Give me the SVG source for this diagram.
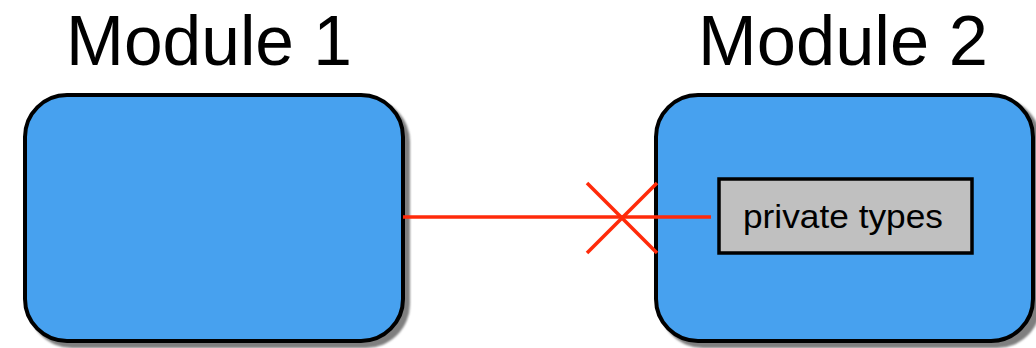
<svg xmlns="http://www.w3.org/2000/svg" width="1036" height="348" viewBox="0 0 1036 348">
  <defs>
    <filter id="blur" x="-5%" y="-5%" width="110%" height="110%">
      <feGaussianBlur stdDeviation="1.2"/>
    </filter>
  </defs>
  <style>
    .shadow { fill: #7f7f7f; filter: url(#blur); }
    .module { fill: #47a1ef; stroke: #000; stroke-width: 4; }
    .title { font-family: "Liberation Sans", Arial, sans-serif; font-size: 70px; fill: #000; }
    .inner { fill: #c0c0c0; stroke: #000; stroke-width: 3.5; }
    .label { font-family: "Liberation Sans", Arial, sans-serif; font-size: 34px; fill: #000; }
    .conn { stroke: #ff2a0a; stroke-width: 3.5; fill: none; }
  </style>
  <rect width="1036" height="348" fill="#fff"/>

  <g id="module1">
    <text class="title" x="66" y="65" textLength="286" lengthAdjust="spacingAndGlyphs">Module 1</text>
    <rect class="shadow" x="28" y="98" width="382" height="250" rx="44"/>
    <rect class="module" x="25" y="95" width="378" height="246" rx="42"/>
  </g>

  <g id="module2">
    <text class="title" x="698" y="65" textLength="290" lengthAdjust="spacingAndGlyphs">Module 2</text>
    <rect class="shadow" x="659" y="98" width="382" height="250" rx="44"/>
    <rect class="module" x="656" y="95" width="377" height="246" rx="42"/>
  </g>

  <g id="private-types">
    <rect class="inner" x="719" y="179" width="253" height="74"/>
    <text class="label" x="743" y="228" textLength="200" lengthAdjust="spacingAndGlyphs">private types</text>
  </g>

  <g id="connectors">
    <line class="conn" x1="403" y1="217" x2="711" y2="217"/>
    <line class="conn" x1="587" y1="183" x2="657" y2="253"/>
    <line class="conn" x1="587" y1="253" x2="657" y2="183"/>
  </g>
</svg>
